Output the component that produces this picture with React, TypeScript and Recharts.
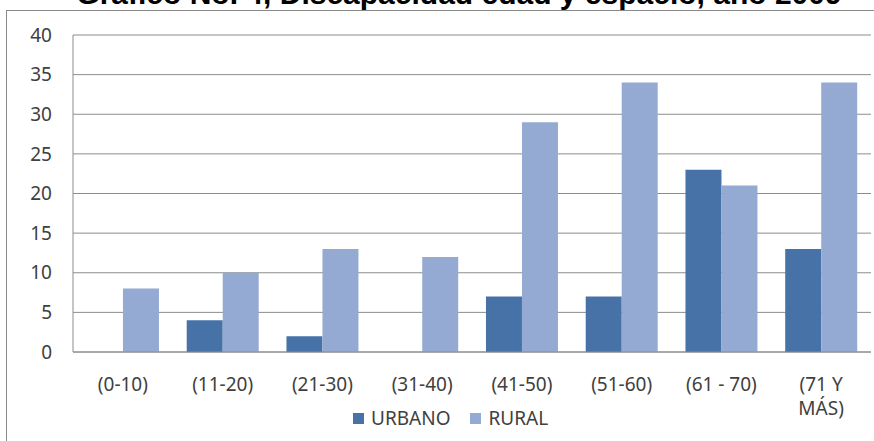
import React from 'react';
import { BarChart, Bar, XAxis, YAxis, CartesianGrid, Legend } from 'recharts';

const categories = ['(0-10)', '(11-20)', '(21-30)', '(31-40)', '(41-50)', '(51-60)', '(61 - 70)', '(71 Y\nMÁS)'];
const urbano = [0, 4, 2, 0, 7, 7, 23, 13];
const rural = [8, 10, 13, 12, 29, 34, 21, 34];
const yTicks = [0, 5, 10, 15, 20, 25, 30, 35, 40];

const data = categories.map((name, i) => ({ name, URBANO: urbano[i], RURAL: rural[i] }));

const FONT = '"Noto Sans", "Open Sans", sans-serif';
const DARK = '#4672A8';
const LIGHT = '#94AAD3';

const CategoryTick = (props: any) => {
  const { x, y, payload } = props;
  const lines = String(payload.value).split('\n');
  return (
    <text x={x} y={y} textAnchor="middle" fill="#404040" fontSize={19} fontFamily={FONT}>
      {lines.map((l, i) => (
        <tspan key={i} x={x} dy={i === 0 ? 31 : 24}>{l}</tspan>
      ))}
    </text>
  );
};

const LegendBox = () => (
  <div style={{ display: 'flex', alignItems: 'center', fontFamily: FONT, fontSize: 19, lineHeight: '24px', color: '#404040', marginLeft: 353 }}>
    <span style={{ width: 11, height: 11, background: DARK, display: 'inline-block', marginRight: 7 }} />
    <span style={{ marginRight: 20 }}>URBANO</span>
    <span style={{ width: 11, height: 11, background: LIGHT, display: 'inline-block', marginRight: 7 }} />
    <span>RURAL</span>
  </div>
);

export default function App() {
  return (
    <div style={{ position: 'fixed', left: 0, top: 0, width: 874, height: 441, background: '#fff', overflow: 'hidden' }}>
      <div style={{
        position: 'absolute', left: 22, width: 874, top: -21, textAlign: 'center', whiteSpace: 'nowrap',
        fontFamily: '"Liberation Sans", Arial, sans-serif', fontWeight: 'bold', fontSize: 30, lineHeight: '30px', color: '#000'
      }}>
        Gráfico No. 4, Discapacidad edad y espacio, año 2009
      </div>
      <div style={{ position: 'absolute', left: 6, top: 10, width: 900, height: 500, border: '1px solid #8a8a8a', boxSizing: 'border-box' }} />
      <div style={{ position: 'absolute', left: 0, top: 0 }}>
        <BarChart
          width={874}
          height={441}
          data={data}
          margin={{ top: 35, right: 3, left: 13, bottom: 0 }}
          barCategoryGap="14%"
          barGap={0}
        >
          <CartesianGrid horizontal vertical={false} stroke="#8c8c8c" strokeWidth={1} />
          <XAxis
            dataKey="name"
            axisLine={{ stroke: '#8c8c8c' }}
            tickLine={false}
            interval={0}
            height={65}
            tick={<CategoryTick />}
          />
          <YAxis
            domain={[0, 40]}
            ticks={yTicks}
            width={60}
            axisLine={{ stroke: '#8c8c8c' }}
            tickLine={false}
            tickSize={0}
            tickMargin={21}
            tick={{ fill: '#404040', fontSize: 19, fontFamily: FONT }}
          />
          <Legend content={<LegendBox />} wrapperStyle={{ position: 'absolute', top: 406, left: 0, width: 874 }} />
          <Bar dataKey="URBANO" fill={DARK} isAnimationActive={false} />
          <Bar dataKey="RURAL" fill={LIGHT} isAnimationActive={false} />
        </BarChart>
      </div>
    </div>
  );
}
